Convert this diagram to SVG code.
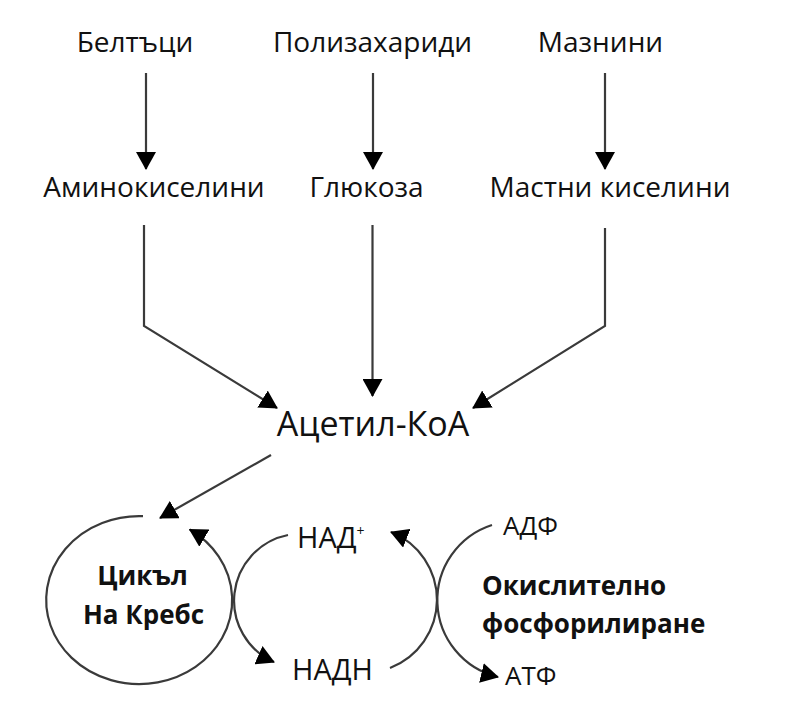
<svg xmlns="http://www.w3.org/2000/svg" width="803" height="716" viewBox="0 0 803 716">
<style>
  text { font-family: "Open Sans", "Noto Sans", "DejaVu Sans", sans-serif; fill: #111; }
  .t1 { font-size: 28px; text-anchor: middle; }
  .tA { font-size: 34px; text-anchor: middle; }
  .tN { font-size: 29px; }
  .mid { text-anchor: middle; }
  .tS { font-size: 26px; }
  .tB { font-size: 26px; font-weight: bold; }
  .ln { fill: none; stroke: #3a3a3a; stroke-width: 2.2; marker-end: url(#ah); }
</style>
<defs>
  <marker id="ah" viewBox="0 0 18 20" refX="17" refY="10" markerWidth="18" markerHeight="20" markerUnits="userSpaceOnUse" orient="auto">
    <path d="M0,0 L18,10 L0,20 z" fill="#000"/>
  </marker>
</defs>
<rect width="803" height="716" fill="#fff"/>

<g id="connectors">
  <path class="ln" d="M146,73 V169"/>
  <path class="ln" d="M373,73 V169"/>
  <path class="ln" d="M605,73 V169"/>
  <path class="ln" d="M144,225 V326 L277,408"/>
  <path class="ln" d="M372.5,225 V396"/>
  <path class="ln" d="M605,228 V326 L473,408"/>
  <path class="ln" d="M271,455 L160,518"/>
  <path class="ln" d="M143,516.1 A93 84 0 1 0 189.7,529.5"/>
  <path class="ln" d="M288,535 A67 67 0 0 0 274,662"/>
  <path class="ln" d="M390,668 A73 73 0 0 0 391,532"/>
  <path class="ln" d="M492,525 A79 79 0 0 0 498,677"/>
</g>

<g id="beltatsi"><text class="t1" x="135" y="52">Белтъци</text></g>
<g id="polizaharidi"><text class="t1" x="372.5" y="52">Полизахариди</text></g>
<g id="maznini"><text class="t1" x="600.5" y="52">Мазнини</text></g>
<g id="aminokiselini"><text class="t1" x="154" y="197">Аминокиселини</text></g>
<g id="glyukoza"><text class="t1" x="366.5" y="197">Глюкоза</text></g>
<g id="mastni"><text class="t1" x="610" y="197">Мастни киселини</text></g>
<g id="acetil"><text class="tA" x="373" y="436">Ацетил-КоА</text></g>
<g id="krebs">
  <text class="tB mid" x="142.5" y="585">Цикъл</text>
  <text class="tB mid" x="143.5" y="624">На Кребс</text>
</g>
<g id="nad"><text class="tN" x="297" y="548">НАД<tspan font-size="14" dy="-12">+</tspan></text></g>
<g id="nadh"><text class="tN mid" x="332.5" y="680">НАДН</text></g>
<g id="adf"><text class="tS" x="503" y="535">АДФ</text></g>
<g id="atf"><text class="tS" x="505" y="685">АТФ</text></g>
<g id="okislitelno">
  <text class="tB" x="482" y="595">Окислително</text>
  <text class="tB" x="482" y="633">фосфорилиране</text>
</g>
</svg>
